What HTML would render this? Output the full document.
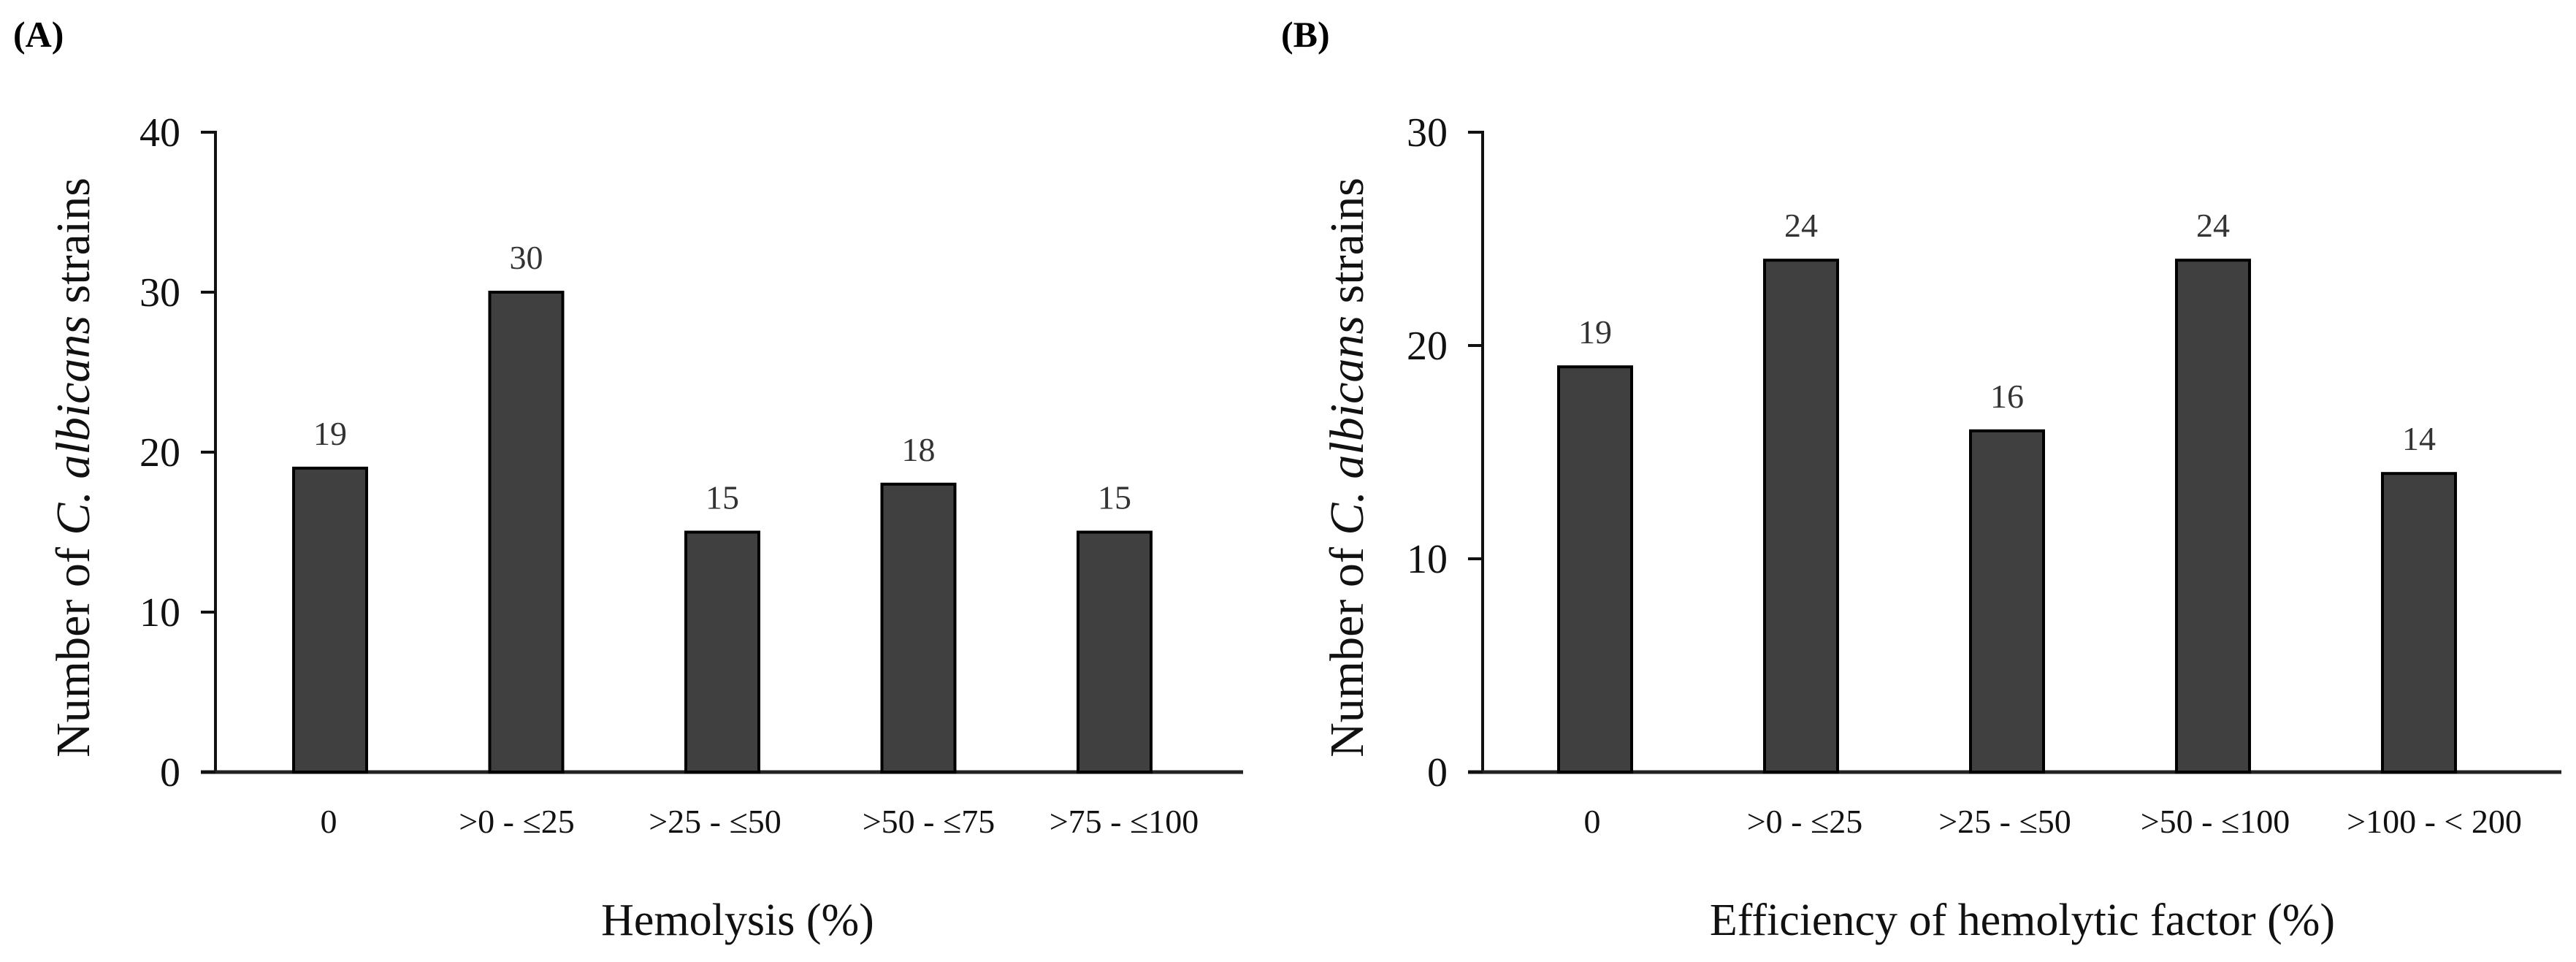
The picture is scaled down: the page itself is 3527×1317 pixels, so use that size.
<!DOCTYPE html>
<html><head><meta charset="utf-8">
<style>
html,body{margin:0;padding:0;background:#fff;}
svg{display:block;}
text{font-family:"Liberation Serif",serif;}
</style></head>
<body>
<svg id="fig" width="3527" height="1317" viewBox="0 0 3527 1317" xmlns="http://www.w3.org/2000/svg">
<text x="18" y="64" font-size="50" font-weight="bold">(A)</text>
<text x="1754" y="64" font-size="50" font-weight="bold">(B)</text>
<g id="chartA"></g>
<g id="chartB"></g>
</svg>
<script>
const catsA = ["0", ">0 - ≤25", ">25 - ≤50", ">50 - ≤75", ">75 - ≤100"];
const valsA = [19, 30, 15, 18, 15];
const ticksA = [0, 10, 20, 30, 40];
const catsB = ["0", ">0 - ≤25", ">25 - ≤50", ">50 - ≤100", ">100 - < 200"];
const valsB = [19, 24, 16, 24, 14];
const ticksB = [0, 10, 20, 30];

const NS = "http://www.w3.org/2000/svg";
function mk(parent, tag, attrs, txt){
  const e = document.createElementNS(NS, tag);
  for (const k in attrs) e.setAttribute(k, attrs[k]);
  if (txt !== undefined) e.textContent = txt;
  parent.appendChild(e);
  return e;
}
function draw(g, cfg, cats, vals, ticks){
  const y0 = 1057, yTop = 181;
  const maxV = ticks[ticks.length-1];
  const yS = v => y0 - (y0 - yTop) * v / maxV;
  const xS = i => cfg.x0 + cfg.firstC + i * cfg.step;
  // y axis
  const ax = mk(g, "line", {x1:cfg.x0, y1:yTop-2, x2:cfg.x0, y2:y0, stroke:"#111", "stroke-width":4});
  
  
  const bx = mk(g, "line", {x1:cfg.x0-20, y1:y0, x2:cfg.xEnd, y2:y0, stroke:"#222", "stroke-width":5});
  
  
  ticks.forEach(t => {
    const y = yS(t);
    const tl = mk(g, "line", {x1:cfg.x0-20, y1:y, x2:cfg.x0, y2:y, stroke:"#111", "stroke-width":4});
    
    
    const tt = mk(g, "text", {x:cfg.x0-48, y:y+19, "font-size":56, "text-anchor":"end", fill:"#111"}, String(t));
    
    
  });
  cats.forEach((c, i) => {
    const cx = xS(i), v = vals[i], top = yS(v);
    const r = mk(g, "rect", {x:cx-50, y:top, width:100, height:y0-top, fill:"#404040", stroke:"#000", "stroke-width":4});
    
    
    const vl = mk(g, "text", {x:cx, y:top-32, "font-size":46, "text-anchor":"middle", fill:"#333"}, String(v));
    
    
    const xl = mk(g, "text", {x:cx + cfg.lblOff[i], y:1140, "font-size":46, "text-anchor":"middle", fill:"#111"}, c);
    
    
  });
  const xt = mk(g, "text", {x:cfg.titleX, y:1280, "font-size":62, "text-anchor":"middle", fill:"#111"}, cfg.title);
  
  
  const yt = mk(g, "text", {x:0, y:0, "font-size":66, "text-anchor":"middle", fill:"#111", transform:"translate("+cfg.yTitleX+",640) rotate(-90)"});
  
  
  mk(yt, "tspan", {}, "Number of ");
  mk(yt, "tspan", {"font-style":"italic"}, "C. albicans");
  mk(yt, "tspan", {}, " strains");
}
draw(document.getElementById("chartA"),
  {x0:295, xEnd:1702, firstC:157, step:268.5, title:"Hemolysis (%)", titleX:1010, yTitleX:122, lblOff:[-2,-13,-10,14,13]},
  catsA, valsA, ticksA);
draw(document.getElementById("chartB"),
  {x0:2030, xEnd:3507, firstC:154, step:282, title:"Efficiency of hemolytic factor (%)", titleX:2769, yTitleX:1866, lblOff:[-4,5,-3,3,21]},
  catsB, valsB, ticksB);
</script>
</body></html>
